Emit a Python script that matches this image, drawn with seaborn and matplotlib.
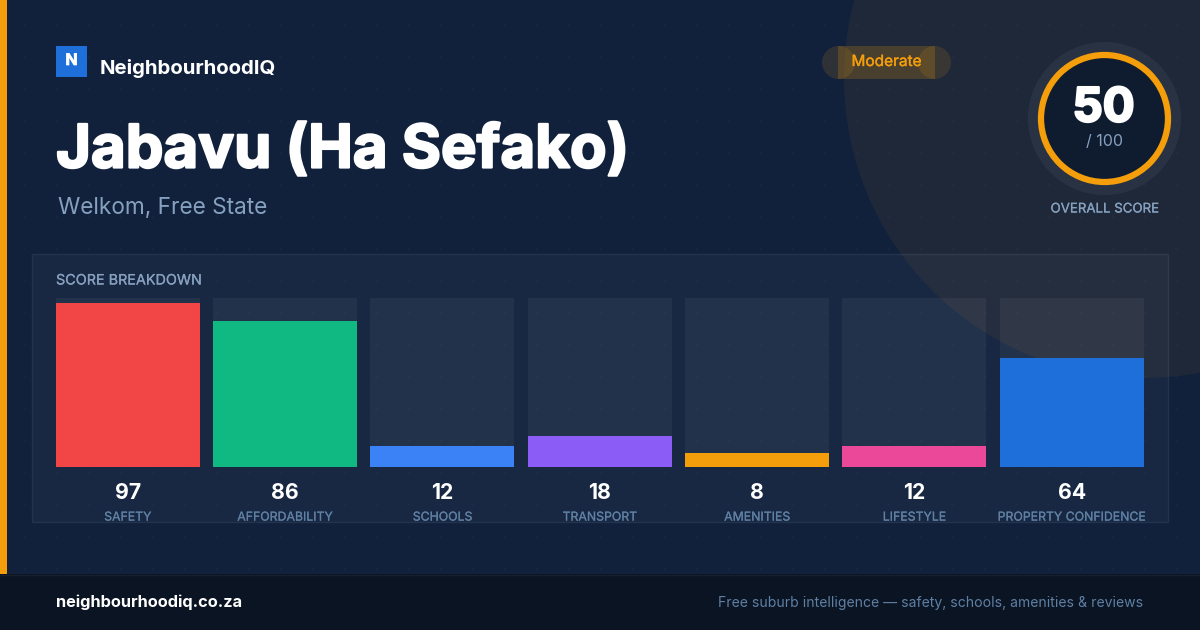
import numpy as np
import pandas as pd
import seaborn as sns
import matplotlib.pyplot as plt
import matplotlib.patheffects as pe
from matplotlib.patches import Circle, Rectangle

categories = ["SAFETY", "AFFORDABILITY", "SCHOOLS", "TRANSPORT", "AMENITIES", "LIFESTYLE", "PROPERTY CONFIDENCE"]
scores = [97, 86, 12, 18, 8, 12, 64]
track = [100, 100, 100, 100, 100, 100, 100]
bar_colors = ["#f24545", "#10b981", "#3b82f6", "#8b5cf6", "#f59e0b", "#ec4899", "#1e6fd9"]

overall = 50
amber = "#f59e0b"
muted = "#86a1bf"
dim = "#5f80a3"


def thicker(width, color="white"):
    # Inter has no usable 800 weight here, so fatten the bold with a stroke
    return [pe.withStroke(linewidth=width, foreground=color)]


sns.set_theme(style="white")
plt.rcParams["font.family"] = ["Inter", "DejaVu Sans"]

fig = plt.figure(figsize=(12, 6.3), dpi=100)

# page background and decoration, drawn in pixel coordinates
bg = fig.add_axes([0, 0, 1, 1], zorder=0)
bg.set_xlim(0, 1200)
bg.set_ylim(630, 0)
bg.axis("off")
bg.add_patch(Rectangle((0, 0), 1200, 630, color="#11213c", lw=0))
bg.add_patch(Circle((1144, 78), 300, color=amber, alpha=0.06, lw=0))
gx, gy = np.meshgrid(np.arange(24, 1200, 32), np.arange(24, 574, 32))
bg.scatter(gx.ravel(), gy.ravel(), s=2.5, color="white", alpha=0.03, lw=0)
bg.add_patch(Rectangle((0, 0), 7, 574, color=amber, lw=0))
bg.add_patch(Rectangle((0, 574), 1200, 56, color="#0a1423", lw=0))
bg.plot([0, 1200], [574.5, 574.5], color="white", alpha=0.05, lw=1)

# logo
bg.add_patch(Rectangle((56, 46), 31, 31, color="#1e6fd9", lw=0))
bg.text(71.5, 60.5, "N", color="white", fontsize=11.5, fontweight="bold", ha="center", va="center",
        path_effects=thicker(0.5))
bg.text(100, 68, "NeighbourhoodIQ", color="white", fontsize=14.65, fontweight="bold", ha="left", va="center")

# heading
bg.text(56, 152, "Jabavu (Ha Sefako)", color="white", fontsize=43.1, fontweight="bold", ha="left", va="center",
        path_effects=thicker(1.6))
bg.text(58, 208, "Welkom, Free State", color=muted, fontsize=16.3, ha="left", va="center")

# rating pill, the end caps overlap the middle
bg.add_patch(Rectangle((838, 46), 97, 33, color=amber, alpha=0.2, lw=0))
bg.add_patch(Circle((838.5, 62.5), 16.5, color=amber, alpha=0.13, lw=0))
bg.add_patch(Circle((934.5, 62.5), 16.5, color=amber, alpha=0.13, lw=0))
bg.text(886.5, 61.5, "Moderate", color=amber, fontsize=11.1, ha="center", va="center",
        path_effects=thicker(0.25, amber))

# score ring
bg.add_patch(Circle((1104.5, 118.5), 76.5, color="white", alpha=0.05, lw=0))
bg.add_patch(Circle((1104.5, 118.5), 63.5, facecolor="#0f1b2e", edgecolor=amber, lw=4.5))
bg.text(1103.5, 109.5, str(overall), color="white", fontsize=34, fontweight="bold", ha="center", va="center",
        path_effects=thicker(1.7))
bg.text(1104.5, 141.5, "/ 100", color=muted, fontsize=11.5, ha="center", va="center")
bg.text(1104.5, 209.5, "OVERALL SCORE", color=muted, fontsize=9.55, ha="center", va="center",
        path_effects=thicker(0.15, muted))

# breakdown panel
bg.add_patch(Rectangle((32, 254), 1136, 268, facecolor=(1, 1, 1, 0.03), edgecolor=(1, 1, 1, 0.07), lw=1))
bg.text(56, 280.5, "SCORE BREAKDOWN", color=muted, fontsize=10.35, ha="left", va="center",
        path_effects=thicker(0.15, muted))

# footer text
bg.text(56, 602.5, "neighbourhoodiq.co.za", color="white", fontsize=11.75, fontweight="bold", ha="left", va="center")
bg.text(1143, 603, "Free suburb intelligence — safety, schools, amenities & reviews", color="#5f7fa3",
        fontsize=10.08, ha="right", va="center")

# bars
df = pd.DataFrame({"category": categories, "score": scores, "track": track})
ax = fig.add_axes([55.8 / 1200, (630 - 466.6) / 630, 1088 / 1200, 169 / 630], zorder=1)
ax.patch.set_alpha(0)
bar_width = 144 / 157.33
sns.barplot(data=df, x="category", y="track", color="white", alpha=0.05, width=bar_width,
            saturation=1, linewidth=0, ax=ax)
sns.barplot(data=df, x="category", y="score", hue="category", palette=bar_colors, legend=False,
            width=bar_width, saturation=1, linewidth=0, ax=ax)
ax.set_xlim(-bar_width / 2, 6 + bar_width / 2)
ax.set_ylim(0, 100)
ax.set_xlabel("")
ax.set_ylabel("")
ax.set_yticks([])
ax.tick_params(axis="x", length=0, pad=32.4, labelsize=8.85, labelcolor=dim)
for tick in ax.get_xticklabels():
    tick.set_path_effects(thicker(0.15, dim))
sns.despine(ax=ax, left=True, bottom=True)

for i, score in enumerate(scores):
    ax.annotate(str(score), xy=(i, 0), xytext=(0, -26.8 * 0.72), textcoords="offset points",
                color="white", fontsize=15.3, fontweight="bold", ha="center", va="center")

fig.savefig("out.png", dpi=100)
